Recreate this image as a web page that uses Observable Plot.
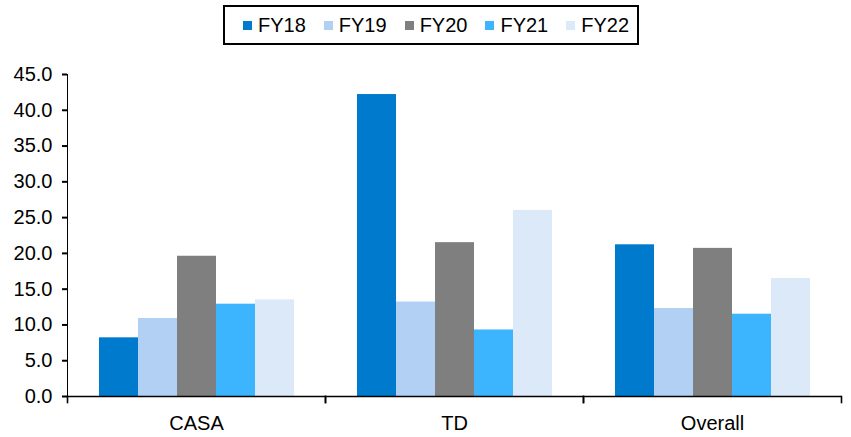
<!DOCTYPE html>
<html>
<head>
<meta charset="utf-8">
<script src="https://cdn.jsdelivr.net/npm/d3@7"></script>
<script src="https://cdn.jsdelivr.net/npm/@observablehq/plot@0.6"></script>
<style>
  body { margin: 0; background: #fff; font-family: "Liberation Sans", Arial, sans-serif; }
  #wrap { position: relative; width: 851px; height: 437px; }
  #legend {
    position: absolute; left: 223px; top: 5px; width: 416px; height: 40px;
    box-sizing: border-box; border: 2px solid #000;
    display: flex; align-items: center; padding-left: 18px;
    font-size: 20px; color: #000;
  }
  #legend .item { display: flex; align-items: center; margin-right: 18px; }
  #legend .sw { width: 9px; height: 9px; margin-right: 6px; }
  #chart { position: absolute; left: 0; top: 50px; }
  #chart svg [aria-label^="y-axis"] path,
  #chart svg [aria-label^="y-axis"] line { stroke-width: 2px; stroke: #000; }
</style>
</head>
<body>
<div id="wrap">
  <div id="legend"></div>
  <div id="chart"></div>
</div>
<script>
// Growth by deposit type, FY18–FY22
const categories = ["CASA", "TD", "Overall"];
const years = ["FY18", "FY19", "FY20", "FY21", "FY22"];
const casa = [8.2, 10.9, 19.6, 12.9, 13.5];
const td = [42.2, 13.2, 21.5, 9.3, 26.0];
const overall = [21.2, 12.3, 20.7, 11.5, 16.5];
const yearColors = ["#007acc", "#b1d0f4", "#7f7f7f", "#3cb4fe", "#dce9f8"];
const yTicks = [0, 5, 10, 15, 20, 25, 30, 35, 40, 45];

const seriesByCategory = { CASA: casa, TD: td, Overall: overall };
const rows = categories.flatMap(c =>
  years.map((y, i) => ({ category: c, year: y, value: seriesByCategory[c][i] }))
);

// Legend
const legend = document.getElementById("legend");
years.forEach((y, i) => {
  const item = document.createElement("div");
  item.className = "item";
  const sw = document.createElement("span");
  sw.className = "sw";
  sw.style.background = yearColors[i];
  const label = document.createElement("span");
  label.textContent = y;
  item.append(sw, label);
  legend.append(item);
});

const plotHeight = 387, mTop = 24, mBottom = 41;

const chart = Plot.plot({
  width: 851,
  height: plotHeight,
  marginLeft: 67,
  marginRight: 10,
  marginTop: mTop,
  marginBottom: mBottom,
  style: { fontFamily: '"Liberation Sans", Arial, sans-serif', fontSize: "20px", color: "#000", background: "#fff", overflow: "visible" },
  fx: { domain: categories, padding: 0, label: null, axis: "bottom", tickSize: 0, tickPadding: 19 },
  x: { domain: years, axis: null, paddingInner: 0, paddingOuter: 0.758 },
  y: { domain: [0, 45], ticks: yTicks, tickFormat: d3.format(".1f"), tickSize: 5, tickPadding: 10, label: null, line: true },
  color: { domain: years, range: yearColors },
  marks: [
    Plot.barY(rows, { fx: "category", x: "year", y: "value", fill: "year" }),
    Plot.ruleY([0], { stroke: "#000", strokeWidth: 1.6 }),
    // short boundary ticks below the baseline between the groups
    Plot.frame({ anchor: "left", insetTop: plotHeight - mTop - mBottom, insetBottom: -6, stroke: "#000", strokeWidth: 1.6 }),
    Plot.frame({ anchor: "right", insetTop: plotHeight - mTop - mBottom, insetBottom: -6, stroke: "#000", strokeWidth: 1.6 })
  ]
});

document.getElementById("chart").append(chart);
</script>
</body>
</html>
